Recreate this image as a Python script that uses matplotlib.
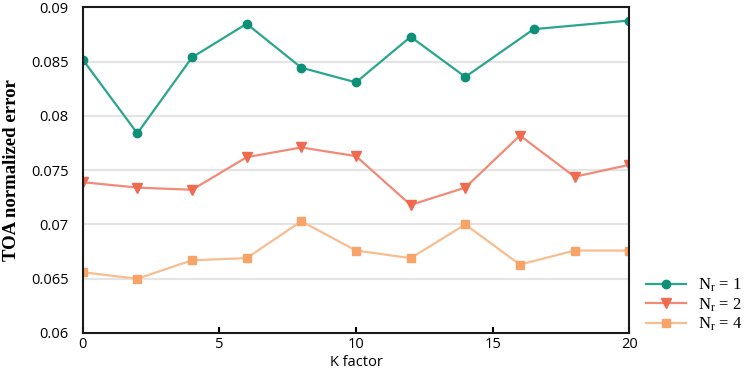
import matplotlib
matplotlib.use("Agg")
import matplotlib.pyplot as plt
from matplotlib.ticker import FormatStrFormatter

plt.rcParams['font.family'] = ['Open Sans', 'DejaVu Sans']
plt.rcParams['mathtext.fontset'] = 'custom'
plt.rcParams['mathtext.rm'] = 'Liberation Serif'

# data
x1 = [0, 2, 4, 6, 8, 10, 12, 14, 16.5, 20]
nr1 = [0.0852, 0.0784, 0.0854, 0.0885, 0.08445, 0.0831, 0.0873, 0.0836, 0.0880, 0.0888]

x2 = [0, 2, 4, 6, 8, 10, 12, 14, 16, 18, 20]
nr2 = [0.0739, 0.0734, 0.0732, 0.0762, 0.0771, 0.0763, 0.0718, 0.0734, 0.0782, 0.0744, 0.0755]

x4 = [0, 2, 4, 6, 8, 10, 12, 14, 16, 18, 20]
nr4 = [0.0656, 0.0650, 0.0667, 0.0669, 0.0703, 0.0676, 0.0669, 0.0700, 0.0663, 0.0676, 0.0676]

labels = [r'$\mathrm{N_r}$ = 1', r'$\mathrm{N_r}$ = 2', r'$\mathrm{N_r}$ = 4']
yticks = [0.06, 0.065, 0.07, 0.075, 0.08, 0.085, 0.09]
xticks = [0, 5, 10, 15, 20]

fig = plt.figure(figsize=(7.47, 3.69), dpi=100)
ax = fig.add_axes([0.1107, 0.0976, 0.7317, 0.8821])

for y in yticks[1:-1]:
    ax.axhline(y, color='#e4e4e4', lw=1.6, zorder=0)

ax.plot(x1, nr1, color='#2aa58e', lw=1.6, marker='o', ms=6,
        mfc='#0e8f77', mec='#0e8f77', label=labels[0])
ax.plot(x2, nr2, color='#f18a76', lw=1.6, marker='v', ms=7,
        mfc='#ef6a4e', mec='#ef6a4e', label=labels[1])
ax.plot(x4, nr4, color='#f9bd8e', lw=1.6, marker='s', ms=5.5,
        mfc='#f8a468', mec='#f8a468', label=labels[2])

ax.set_xlim(0, 20)
ax.set_ylim(0.06, 0.09)
ax.set_xticks(xticks)
ax.set_yticks(yticks)
ax.yaxis.set_major_formatter(FormatStrFormatter('%g'))
ax.tick_params(axis='x', direction='in', length=4, width=1.5, labelsize=10.5, pad=3)
ax.tick_params(axis='y', length=0, labelsize=10.5, pad=10)
for s in ax.spines.values():
    s.set_linewidth(1.5)
    s.set_color('#1a1a1a')

ax.set_xlabel('K factor', fontsize=10.5, labelpad=2)
ax.set_ylabel('TOA normalized error', family='Liberation Serif', fontsize=13.5,
              fontweight='bold', labelpad=8)

leg = fig.legend(loc='lower left', bbox_to_anchor=(646 / 747, 1 - 333 / 369),
                 frameon=False, prop={'family': 'Liberation Serif', 'size': 12},
                 handlelength=2.4, labelspacing=0.12,
                 handletextpad=0.7, borderpad=0, borderaxespad=0)

fig.savefig('out.png', dpi=100)
